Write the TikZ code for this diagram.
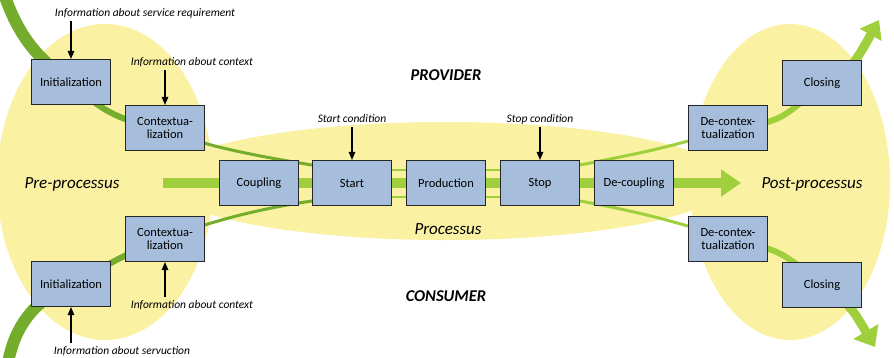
\documentclass[tikz,border=0pt]{standalone}
\usepackage{fontspec}
\setmainfont{Carlito}
\usetikzlibrary{positioning,calc,arrows.meta,backgrounds}
\definecolor{paleyellow}{HTML}{FAF1A2}
\definecolor{boxblue}{HTML}{A6BDDB}
\definecolor{darkgreen}{HTML}{74AC2C}
\definecolor{lightgreen}{HTML}{9FCF3C}

\begin{document}
\begin{tikzpicture}[x=1pt,y=-1pt,
    box/.style={draw=black!85, line width=1.1pt, fill=boxblue, minimum width=79pt,
      minimum height=45pt, align=center, inner sep=1pt, font=\fontsize{12.5}{13.5}\selectfont},
    info/.style={font=\fontsize{11.5}{12}\selectfont\itshape},
    zone/.style={font=\fontsize{17}{19}\selectfont\itshape},
    actor/.style={font=\fontsize{16.5}{18}\selectfont\bfseries\itshape},
    infoarrow/.style={-{Triangle[length=8pt,width=6.5pt]}, line width=1.1pt},
    flowleft/.style={draw=darkgreen},
    flowright/.style={draw=lightgreen}
  ]
  \useasboundingbox (0,0) rectangle (894,357);

  % Boxes, provider side
  \node[box] (initT) at (71,82) {Initialization};
  \node[box] (ctxT) at (165,128) {Contextua-\\lization};
  \node[box] (dectxT) at (728,128) {De-contex-\\tualization};
  \node[box] (closingT) at (822,83) {Closing};

  % Boxes, processus
  \node[box] (coupling) at (259,183) {Coupling};
  \node[box] (start) at (352,183) {Start};
  \node[box] (production) at (446,183) {Production};
  \node[box] (stop) at (540,183) {Stop};
  \node[box] (decoupling) at (634,183) {De-coupling};

  % Boxes, consumer side
  \node[box] (ctxB) at (165,239) {Contextua-\\lization};
  \node[box] (initB) at (71,284) {Initialization};
  \node[box] (dectxB) at (728,239) {De-contex-\\tualization};
  \node[box] (closingB) at (822,285) {Closing};

  % Information inputs
  \node[info] (reqinfo) at (145,13) {Information about service requirement};
  \node[info] (ctxinfoT) at (192,62) {Information about context};
  \node[info] (startcond) at (352,119) {Start condition};
  \node[info] (stopcond) at (540,119) {Stop condition};
  \node[info] (ctxinfoB) at (192,305) {Information about context};
  \node[info] (servinfo) at (122,351) {Information about servuction};

  \draw[infoarrow] (reqinfo.south -| initT.north) -- (initT.north);
  \draw[infoarrow] (ctxinfoT.south -| ctxT.north) -- (ctxT.north);
  \draw[infoarrow] (startcond.south) -- (start.north);
  \draw[infoarrow] (stopcond.south) -- (stop.north);
  \draw[infoarrow] (ctxinfoB.north -| ctxB.south) -- (ctxB.south);
  \draw[infoarrow] (servinfo.north -| initB.south) -- (initB.south);

  % Labels
  \node[actor] (provider) at (446,75) {PROVIDER};
  \node[actor] (consumer) at (446,296) {CONSUMER};
  \node[zone] (pre) at (72,184) {Pre-processus};
  \node[zone] (post) at (812,184) {Post-processus};
  \node[zone] (proc) at (448,229) {Processus};

  \coordinate (topin) at (4,-6);
  \coordinate (botin) at (8,363);
  \coordinate (topout) at (879,20);
  \coordinate (botout) at (875,347);
  \coordinate (mainin) at (163,183);
  \coordinate (mainout) at (741,183);

  \begin{scope}[on background layer]
    % Zones
    \fill[paleyellow] (105,182) ellipse [x radius=108, y radius=158];
    \fill[paleyellow] (790,182) ellipse [x radius=100, y radius=158];
    \fill[paleyellow] (445,181) ellipse [x radius=285, y radius=59];

    % Main flow
    \draw[lightgreen, line width=10pt, -{Triangle[length=20pt,width=26pt]}] (mainin) -- (mainout);

    % Provider flow
    \draw[flowleft, line width=12pt] (topin) .. controls (15,25) and (30,55) .. (initT.center);
    \draw[flowleft, line width=6pt] (initT.center) .. controls (100,110) and (120,122) .. (ctxT.center);
    \draw[flowleft, line width=3pt] (ctxT.center) .. controls (190,143) and (250,155) .. ([yshift=18pt]start.west);
    \draw[lightgreen, line width=1.2pt] ([yshift=13pt]start.center) -- ([yshift=13pt]stop.center);
    \draw[flowright, line width=3pt] ([yshift=18pt]stop.east) .. controls (630,155) and (680,146) .. (dectxT.center);
    \draw[flowright, line width=6pt] (dectxT.center) .. controls (780,122) .. (closingT.center);
    \draw[flowright, line width=9pt, -{Triangle[length=17pt,width=24pt]}] (closingT.center) .. controls (852,68) .. (topout);

    % Consumer flow
    \draw[flowleft, line width=12pt] (botin) .. controls (15,325) and (35,300) .. (initB.center);
    \draw[flowleft, line width=6pt] (initB.center) .. controls (100,270) and (130,250) .. (ctxB.center);
    \draw[flowleft, line width=3pt] (ctxB.center) .. controls (200,225) and (250,210) .. ([yshift=-18pt]start.west);
    \draw[lightgreen, line width=1.2pt] ([yshift=-14pt]start.center) -- ([yshift=-14pt]stop.center);
    \draw[flowright, line width=3pt] ([yshift=-18pt]stop.east) .. controls (630,210) and (680,222) .. (dectxB.center);
    \draw[flowright, line width=6pt] (dectxB.center) .. controls (780,250) .. (closingB.center);
    \draw[flowright, line width=9pt, -{Triangle[length=18pt,width=28pt]}] (closingB.center) .. controls (850,305) .. (botout);
  \end{scope}
\end{tikzpicture}
\end{document}
